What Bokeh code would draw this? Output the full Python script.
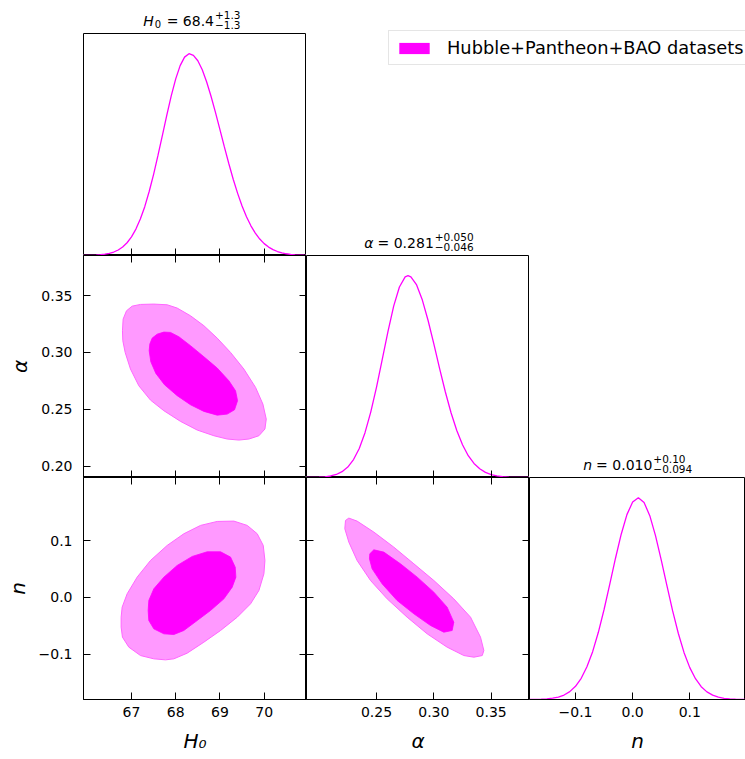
from bokeh.plotting import figure
from bokeh.models import (FixedTicker, LinearAxis, Range1d, Label, Legend,
                          LegendItem)
from bokeh.layouts import row, column
from bokeh.embed import file_html
from bokeh.resources import INLINE

# ---------------- data ----------------
# 1D marginal posterior of H0 (normalised to peak = 1)
H0_X = [65.9, 66.0, 66.1, 66.2, 66.3, 66.4, 66.5, 66.6, 66.7, 66.8, 66.9, 67.0,
        67.1, 67.2, 67.3, 67.4, 67.5, 67.6, 67.7, 67.8, 67.9, 68.0, 68.1, 68.2,
        68.3, 68.4, 68.5, 68.6, 68.7, 68.8, 68.9, 69.0, 69.1, 69.2, 69.3, 69.4,
        69.5, 69.6, 69.7, 69.8, 69.9, 70.0, 70.1, 70.2, 70.3, 70.4, 70.5, 70.6,
        70.7, 70.8, 70.9, 71.0]
H0_P = [0.0003, 0.0006, 0.0011, 0.0021, 0.0037, 0.0063, 0.0106, 0.0172, 0.0273,
        0.0421, 0.0632, 0.0923, 0.131, 0.181, 0.242, 0.317, 0.402, 0.497, 0.596,
        0.697, 0.792, 0.875, 0.941, 0.983, 1.000, 0.992, 0.965, 0.920, 0.860,
        0.788, 0.708, 0.624, 0.538, 0.456, 0.378, 0.308, 0.245, 0.192, 0.147,
        0.111, 0.0814, 0.0588, 0.0416, 0.0289, 0.0197, 0.0131, 0.0086, 0.0055,
        0.0035, 0.0021, 0.0013, 0.0008]

# 1D marginal posterior of alpha
ALPHA_X = [0.188, 0.190, 0.195, 0.200, 0.205, 0.210, 0.215, 0.220, 0.225, 0.230,
           0.235, 0.240, 0.245, 0.250, 0.255, 0.260, 0.265, 0.270, 0.275, 0.2775,
           0.280, 0.285, 0.290, 0.295, 0.300, 0.305, 0.310, 0.315, 0.320, 0.325,
           0.330, 0.335, 0.340, 0.345, 0.350, 0.355, 0.360, 0.365, 0.370, 0.375,
           0.380, 0.385]
ALPHA_P = [0.0002, 0.0003, 0.0007, 0.0016, 0.0035, 0.0075, 0.0150, 0.0287, 0.0519,
           0.0889, 0.144, 0.222, 0.324, 0.447, 0.584, 0.723, 0.849, 0.944, 0.994,
           1.000, 0.994, 0.954, 0.879, 0.778, 0.662, 0.541, 0.425, 0.321, 0.233,
           0.162, 0.108, 0.0697, 0.0431, 0.0256, 0.0146, 0.0080, 0.0042, 0.0021,
           0.0010, 0.0005, 0.0002, 0.0001]

# 1D marginal posterior of n
N_X = [-0.18, -0.17, -0.16, -0.15, -0.14, -0.13, -0.12, -0.11, -0.10, -0.09,
       -0.08, -0.07, -0.06, -0.05, -0.04, -0.03, -0.02, -0.01, 0.00, 0.01, 0.02,
       0.03, 0.04, 0.05, 0.06, 0.07, 0.08, 0.09, 0.10, 0.11, 0.12, 0.13, 0.14,
       0.15, 0.16, 0.17, 0.18, 0.19, 0.20, 0.21]
N_P = [0.0003, 0.0007, 0.0015, 0.0031, 0.0063, 0.0121, 0.0222, 0.0390, 0.0656,
       0.105, 0.162, 0.237, 0.333, 0.446, 0.572, 0.700, 0.819, 0.916, 0.979, 1.000,
       0.976, 0.911, 0.812, 0.692, 0.564, 0.439, 0.327, 0.232, 0.158, 0.103,
       0.0636, 0.0378, 0.0214, 0.0116, 0.0060, 0.0030, 0.0014, 0.0006, 0.0003,
       0.0001]

# 2D credible regions: H0 - alpha
HA_95_H0 = [66.796, 66.811, 66.887, 67.015, 67.204, 67.505, 67.807, 68.033, 68.335,
            68.637, 68.938, 69.240, 69.541, 69.805, 69.971, 70.047, 70.017, 69.881,
            69.655, 69.428, 69.164, 68.863, 68.486, 68.109, 67.732, 67.430, 67.166,
            66.977, 66.857, 66.804]
HA_95_AL = [0.3191, 0.3293, 0.3366, 0.3407, 0.3422, 0.3425, 0.3419, 0.3390, 0.3322,
            0.3235, 0.3126, 0.3000, 0.2854, 0.2693, 0.2546, 0.2414, 0.2327, 0.2268,
            0.2239, 0.2230, 0.2239, 0.2268, 0.2318, 0.2394, 0.2488, 0.2581, 0.2707,
            0.2854, 0.3000, 0.3103]
HA_68_H0 = [67.400, 67.415, 67.468, 67.581, 67.732, 67.882, 68.071, 68.335, 68.637,
            68.938, 69.202, 69.353, 69.398, 69.330, 69.164, 68.938, 68.637, 68.335,
            68.033, 67.747, 67.551, 67.437]
HA_68_AL = [0.3015, 0.3074, 0.3126, 0.3161, 0.3179, 0.3176, 0.3138, 0.3059, 0.2962,
            0.2863, 0.2751, 0.2663, 0.2576, 0.2496, 0.2458, 0.2449, 0.2482, 0.2540,
            0.2620, 0.2716, 0.2816, 0.2918]

# 2D credible regions: H0 - n
HN_95_H0 = [66.766, 66.789, 66.902, 67.128, 67.430, 67.807, 68.184, 68.561, 68.938,
            69.315, 69.617, 69.843, 69.979, 70.017, 69.994, 69.881, 69.692, 69.391,
            69.014, 68.637, 68.259, 67.958, 67.769, 67.505, 67.204, 66.940, 66.796,
            66.766]
HN_95_N = [-0.0347, -0.0171, 0.0065, 0.0359, 0.0653, 0.0918, 0.1124, 0.1271, 0.1341,
           0.1347, 0.1271, 0.1124, 0.0918, 0.0653, 0.0418, 0.0124, -0.0112, -0.0347,
           -0.0582, -0.0788, -0.0982, -0.1082, -0.1100, -0.1082, -0.1024, -0.0876,
           -0.0700, -0.0524]
HN_68_H0 = [67.377, 67.392, 67.505, 67.732, 68.033, 68.373, 68.712, 69.014, 69.240,
            69.345, 69.360, 69.277, 69.089, 68.787, 68.486, 68.184, 67.958, 67.732,
            67.505, 67.392]
HN_68_N = [-0.0229, -0.0053, 0.0153, 0.0359, 0.0565, 0.0724, 0.0806, 0.0806, 0.0712,
           0.0535, 0.0359, 0.0182, -0.0024, -0.0229, -0.0406, -0.0582, -0.0653,
           -0.0641, -0.0553, -0.0406]

# 2D credible regions: alpha - n
AN_95_AL = [0.2230, 0.2259, 0.2331, 0.2477, 0.2651, 0.2826, 0.3000, 0.3174, 0.3320,
            0.3407, 0.3436, 0.3422, 0.3349, 0.3262, 0.3116, 0.2942, 0.2767, 0.2593,
            0.2448, 0.2331, 0.2259, 0.2224]
AN_95_N = [0.1359, 0.1400, 0.1347, 0.1153, 0.0888, 0.0594, 0.0300, -0.0024, -0.0347,
           -0.0700, -0.0935, -0.1024, -0.1053, -0.1024, -0.0876, -0.0641, -0.0347,
           -0.0024, 0.0300, 0.0653, 0.0976, 0.1212]
AN_68_AL = [0.2442, 0.2477, 0.2564, 0.2709, 0.2855, 0.3000, 0.3116, 0.3174, 0.3160,
            0.3087, 0.2971, 0.2826, 0.2680, 0.2549, 0.2462, 0.2439]
AN_68_N = [0.0771, 0.0841, 0.0800, 0.0594, 0.0359, 0.0094, -0.0171, -0.0435, -0.0582,
           -0.0612, -0.0494, -0.0288, -0.0053, 0.0241, 0.0506, 0.0682]

# ticks and texts
H0_TICKS = [67, 68, 69, 70]
H0_TICK_LABELS = ["67", "68", "69", "70"]
ALPHA_XTICKS = [0.25, 0.30, 0.35]
ALPHA_XTICK_LABELS = ["0.25", "0.30", "0.35"]
ALPHA_YTICKS = [0.20, 0.25, 0.30, 0.35]
ALPHA_YTICK_LABELS = ["0.20", "0.25", "0.30", "0.35"]
N_TICKS = [-0.1, 0.0, 0.1]
N_TICK_LABELS = ["\u22120.1", "0.0", "0.1"]

# marginal summaries: (symbol, symbol subscript, "= value", upper, lower)
H0_TITLE = ("H", "0", "= 68.4", "+1.3", "\u22121.3")
ALPHA_TITLE = ("\u03b1", "", "= 0.281", "+0.050", "\u22120.046")
N_TITLE = ("n", "", "= 0.010", "+0.10", "\u22120.094")
LEGEND_LABEL = "Hubble+Pantheon+BAO datasets"

# axis limits
H0_RANGE = (65.915, 70.957)
ALPHA_XRANGE = (0.1890, 0.3834)
ALPHA_YRANGE = (0.1901, 0.3852)
N_XRANGE = (-0.1805, 0.1975)
N_YRANGE = (-0.1799, 0.2116)
P_RANGE = (0.0, 1.1)

# ---------------- style ----------------
FONT = "DejaVu Sans"
MAGENTA = "#ff00ff"
LIGHT = "#ff99ff"
LIGHT_EDGE = "#ff66ff"
TICK_LEN = 7
LEFT = 83


def make_fig(w, h, xr, yr, left=0, right=0, top=0, bottom=0, yaxis=True, xaxis=True):
    p = figure(width=w, height=h, x_range=Range1d(*xr), y_range=Range1d(*yr),
               output_backend="svg", toolbar_location=None,
               x_axis_location="below" if xaxis else None,
               y_axis_location="left" if yaxis else None,
               min_border_left=left, min_border_right=right,
               min_border_top=top, min_border_bottom=bottom)
    p.outline_line_color = "black"
    p.outline_line_width = 1
    p.grid.visible = False
    p.background_fill_color = "white"
    p.border_fill_color = "white"
    return p


def style_axis(ax, ticks, labels=None, name=None, standoff=7, name_standoff=9):
    ax.ticker = FixedTicker(ticks=ticks, minor_ticks=[])
    ax.major_tick_in = TICK_LEN
    ax.major_tick_out = 0
    ax.minor_tick_in = 0
    ax.minor_tick_out = 0
    ax.major_tick_line_color = "black"
    ax.major_tick_line_width = 1
    ax.axis_line_color = "black"
    ax.axis_line_width = 1
    if labels is None:
        ax.major_label_overrides = {t: "" for t in ticks}
        ax.major_label_text_font_size = "0px"
        ax.major_label_standoff = 0
    else:
        ax.major_label_overrides = dict(zip(ticks, labels))
        ax.major_label_text_font = FONT
        ax.major_label_text_font_size = "14px"
        ax.major_label_text_color = "black"
        ax.major_label_standoff = standoff
    if name is not None:
        ax.axis_label = name
        ax.axis_label_text_font = FONT
        ax.axis_label_text_font_size = "20px"
        ax.axis_label_text_font_style = "italic"
        ax.axis_label_text_color = "black"
        ax.axis_label_standoff = name_standoff


def box_axes(p, xticks, yticks, xlabels=None, ylabels=None, xname=None, yname=None):
    style_axis(p.xaxis[0], xticks, xlabels, xname, standoff=7, name_standoff=9)
    style_axis(p.yaxis[0], yticks, ylabels, yname, standoff=11, name_standoff=6)
    top = LinearAxis()
    style_axis(top, xticks)
    p.add_layout(top, "above")
    rgt = LinearAxis()
    style_axis(rgt, yticks)
    p.add_layout(rgt, "right")


def title_fig(w, h, xr, parts, x_join, name_off, sub0_off=0.0, left=0):
    """A bare figure (no axes, no outline) holding the marginal summary text."""
    t = figure(width=w, height=h, x_range=Range1d(*xr), y_range=Range1d(0, h),
               output_backend="svg", toolbar_location=None,
               x_axis_location=None, y_axis_location=None,
               min_border_left=left, min_border_right=0,
               min_border_top=0, min_border_bottom=0)
    t.outline_line_color = None
    t.grid.visible = False
    name, sub0, main, sup, sub = parts
    specs = [(name, name_off, 12.4, "14px", "italic", "left"),
             (main, -0.5, 12.4, "14px", "normal", "right"),
             (sup, 0.5, 18.8, "10.5px", "normal", "left"),
             (sub, 0.5, 8.6, "10.5px", "normal", "left")]
    if sub0:
        specs.append((sub0, sub0_off, 9.7, "10px", "normal", "left"))
    for txt, dx, y, size, style, align in specs:
        t.add_layout(Label(x=x_join, y=y, x_offset=dx, text=txt,
                           text_font=FONT, text_font_size=size,
                           text_font_style=style, text_align=align,
                           text_baseline="alphabetic", text_color="black"))
    return t


def add_1d(p, xs, ys):
    p.line(xs, ys, line_color=MAGENTA, line_width=1.3)


def add_2d(p, x95, y95, x68, y68):
    p.patch(x95, y95, fill_color=LIGHT, line_color=LIGHT_EDGE, line_width=1)
    p.patch(x68, y68, fill_color=MAGENTA, line_color=MAGENTA, line_width=0.8)


# ---------------- column 0 ----------------
t0 = title_fig(LEFT + 223, 33, H0_RANGE, H0_TITLE, 68.877, -71.3, -59.8, left=LEFT)

f00 = make_fig(LEFT + 223, 222, H0_RANGE, P_RANGE, left=LEFT, yaxis=False)
style_axis(f00.xaxis[0], H0_TICKS)
add_1d(f00, H0_X, H0_P)

f10 = make_fig(LEFT + 223, 222, H0_RANGE, ALPHA_YRANGE, left=LEFT)
box_axes(f10, H0_TICKS, ALPHA_YTICKS, ylabels=ALPHA_YTICK_LABELS, yname="\u03b1")
add_2d(f10, HA_95_H0, HA_95_AL, HA_68_H0, HA_68_AL)

f20 = make_fig(LEFT + 223, 282, H0_RANGE, N_YRANGE, left=LEFT, bottom=60)
box_axes(f20, H0_TICKS, N_TICKS, xlabels=H0_TICK_LABELS, ylabels=N_TICK_LABELS,
         xname="H\u2080", yname="n")
add_2d(f20, HN_95_H0, HN_95_N, HN_68_H0, HN_68_N)

# ---------------- column 1 ----------------
t1 = title_fig(223, 30, ALPHA_XRANGE, ALPHA_TITLE, 0.3004, -70.0)

f11 = make_fig(223, 222, ALPHA_XRANGE, P_RANGE, yaxis=False)
style_axis(f11.xaxis[0], ALPHA_XTICKS)
add_1d(f11, ALPHA_X, ALPHA_P)

f21 = make_fig(223, 282, ALPHA_XRANGE, N_YRANGE, bottom=60)
box_axes(f21, ALPHA_XTICKS, N_TICKS, xlabels=ALPHA_XTICK_LABELS, xname="\u03b1")
add_2d(f21, AN_95_AL, AN_95_N, AN_68_AL, AN_68_N)

# ---------------- column 2 ----------------
t2 = title_fig(216, 252, N_XRANGE, N_TITLE, 0.0354, -69.7)

f22 = make_fig(216, 282, N_XRANGE, P_RANGE, bottom=60, yaxis=False)
style_axis(f22.xaxis[0], N_TICKS, N_TICK_LABELS, "n", standoff=7, name_standoff=9)
add_1d(f22, N_X, N_P)

# ---------------- legend ----------------
leg = figure(width=439, height=225, x_range=Range1d(0, 1), y_range=Range1d(0, 1),
             output_backend="svg", toolbar_location=None,
             x_axis_location=None, y_axis_location=None,
             min_border_left=0, min_border_right=0, min_border_top=0,
             min_border_bottom=0)
leg.outline_line_color = None
leg.grid.visible = False
swatch = leg.patch(x=[float("nan")], y=[float("nan")], fill_color=MAGENTA,
                   line_color=MAGENTA, line_width=0)
legend = Legend(items=[LegendItem(label=LEGEND_LABEL, renderers=[swatch])],
                location=(82, 160), margin=0, padding=6, spacing=0,
                glyph_width=38, glyph_height=14, label_standoff=14,
                label_text_font=FONT, label_text_font_size="17.8px",
                label_text_color="black",
                border_line_color="#cccccc", border_line_width=1,
                background_fill_color="white", background_fill_alpha=0.8)
leg.add_layout(legend)

layout = row(
    column(t0, f00, f10, f20),
    column(leg,
           row(column(t1, f11, f21),
               column(t2, f22))),
)

open("out.html", "w").write(file_html(layout, INLINE))
